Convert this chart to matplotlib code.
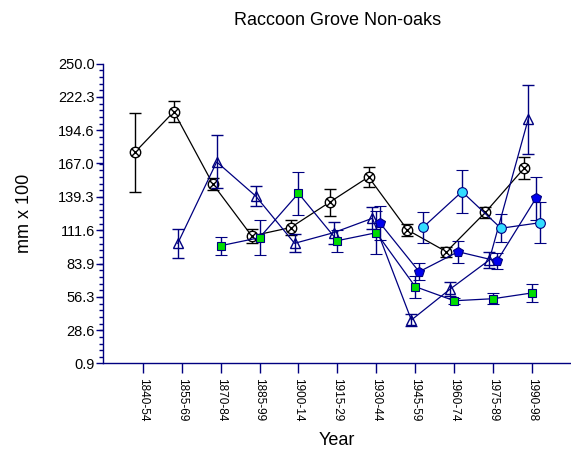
import numpy as np
import matplotlib
matplotlib.use('Agg')
import matplotlib.pyplot as plt
from matplotlib.path import Path

# period labels on the x axis
periods = ['1840-54', '1855-69', '1870-84', '1885-99', '1900-14', '1915-29',
           '1930-44', '1945-59', '1960-74', '1975-89', '1990-98']

# mean ring widths (mm x 100) and error bar half-widths per series
circ_x_mean = [176.3, 210.0, 150.0, 106.8, 113.8, 134.8, 155.8, 111.8, 93.7, 126.4, 163.2]
circ_x_err = [33.0, 8.9, 4.8, 5.5, 6.0, 11.3, 8.5, 4.7, 4.0, 4.5, 9.0]

tri_mean = [None, 100.7, 168.3, 140.0, 100.7, 109.5, 121.5, 37.0, 62.8, 86.8, 203.7]
tri_err = [None, 12.2, 22.0, 8.0, 7.6, 9.0, 9.0, 5.0, 6.0, 7.0, 28.6]

sq_mean = [None, None, 98.7, 105.4, 142.2, 102.9, 109.5, 64.7, 53.0, 54.7, 59.5]
sq_err = [None, None, 7.6, 14.5, 18.0, 9.0, 18.0, 9.0, 2.5, 4.7, 7.3]

pent_mean = [None, None, None, None, None, None, 117.3, 77.1, 93.7, 86.0, 138.1]
pent_err = [None, None, None, None, None, None, 14.0, 7.2, 9.0, 7.0, 18.0]

cyan_mean = [None, None, None, None, None, None, None, 114.0, 143.6, 113.2, 117.8]
cyan_err = [None, None, None, None, None, None, None, 13.0, 18.0, 11.5, 17.0]

yticks = [0.9, 28.6, 56.3, 83.9, 111.6, 139.3, 167.0, 194.6, 222.3, 250.0]

navy = '#000080'

# circle with a cross through it
circ_x = Path.make_compound_path(
    Path.unit_circle(),
    Path([(-0.7, -0.7), (0.7, 0.7)]),
    Path([(-0.7, 0.7), (0.7, -0.7)]))

plt.rcParams['font.family'] = ['Liberation Sans', 'DejaVu Sans']

fig = plt.figure(figsize=(5.71, 4.55), dpi=100)
ax = fig.add_axes([0.1804, 0.2011, 0.8196, 0.6593])


def draw(mean, err, shift, color, ecolor, **mk):
    idx = [i for i, v in enumerate(mean) if v is not None]
    xs = np.array(idx) + shift
    ys = [mean[i] for i in idx]
    es = [err[i] for i in idx]
    ax.errorbar(xs, ys, yerr=es, color=color, ecolor=ecolor, lw=0.9,
                elinewidth=1.0, capsize=4, capthick=1.0, **mk)


draw(circ_x_mean, circ_x_err, -0.2, 'black', 'black',
     marker=circ_x, ms=7.5, mfc='white', mec='black', mew=1.0, zorder=3)
draw(tri_mean, tri_err, -0.1, navy, navy,
     marker='^', ms=6.5, mfc='none', mec=navy, mew=1.0, zorder=4)
draw(sq_mean, sq_err, 0.0, navy, navy,
     marker='s', ms=5.5, mfc='#00dd00', mec=navy, mew=0.8, zorder=5)
draw(pent_mean, pent_err, 0.1, navy, navy,
     marker='p', ms=7, mfc='#0000ee', mec=navy, mew=0.8, zorder=6)
draw(cyan_mean, cyan_err, 0.2, navy, navy,
     marker='o', ms=7, mfc='#33ddff', mec=navy, mew=0.8, zorder=7)

ax.set_xlim(-1.02, 11)
ax.set_ylim(0.9, 250.0)
ax.set_xticks(range(len(periods)))
ax.set_xticklabels(periods, rotation=270, fontsize=8.5)
ax.set_yticks(yticks)
ax.set_yticklabels(['%.1f' % v for v in yticks], fontsize=10.5)
ax.set_yticks(np.linspace(0.9, 250.0, 46), minor=True)

for s in ['top', 'right']:
    ax.spines[s].set_visible(False)
for s in ['left', 'bottom']:
    ax.spines[s].set_color(navy)
    ax.spines[s].set_linewidth(1.0)
ax.tick_params(axis='x', colors=navy, labelcolor='black', length=7, width=1.0)
ax.tick_params(axis='y', which='major', colors=navy, labelcolor='black', length=5, width=1.0, pad=1)
ax.tick_params(axis='y', which='minor', colors=navy, length=3, width=1.0)

fig.text(0.5904, 0.955, 'Raccoon Grove Non-oaks', ha='center', va='center', fontsize=13)
ax.set_ylabel('mm x 100', fontsize=13, labelpad=18)
fig.text(0.5904, 0.031, 'Year', ha='center', va='center', fontsize=13)

fig.savefig('out.png', dpi=100)
